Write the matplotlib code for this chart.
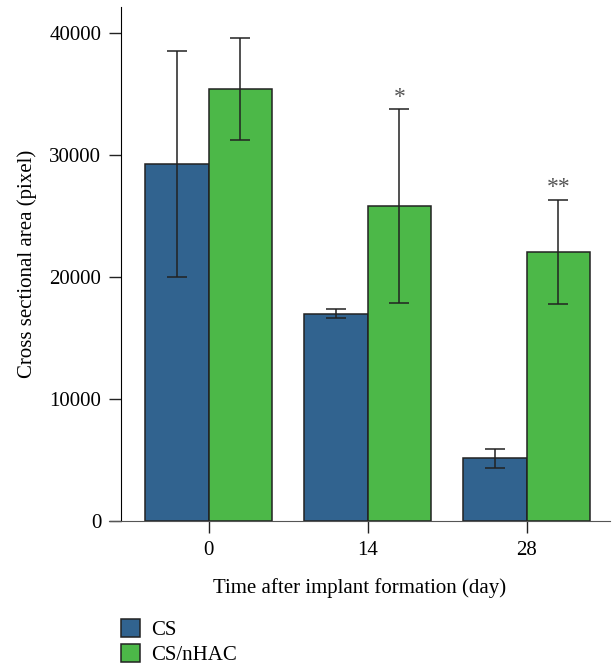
import matplotlib.pyplot as plt
from matplotlib.patches import Patch
import numpy as np

# data
days = ["0", "14", "28"]
cs_mean = [29260, 16990, 5140]
cs_err = [9300, 370, 800]
nhac_mean = [35410, 25820, 22050]
nhac_err = [4200, 7950, 4300]
marks = ["", "*", "**"]

blue = "#31638f"
green = "#4cb848"

plt.rcParams['font.family'] = ['Liberation Serif', 'DejaVu Serif']
plt.rcParams['font.size'] = 15

fig = plt.figure(figsize=(6.14, 6.65), dpi=100)
ax = fig.add_axes([109 / 614, 144 / 665, 501 / 614, 514 / 665])

x = np.arange(len(days))
w = 0.4
ekw = dict(ecolor="#222222", elinewidth=1.1, capthick=1.1)
ax.bar(x - w / 2, cs_mean, w, yerr=cs_err, capsize=7.5, color=blue,
       edgecolor="#222222", linewidth=1.1, error_kw=ekw)
ax.bar(x + w / 2, nhac_mean, w, yerr=nhac_err, capsize=7.5, color=green,
       edgecolor="#222222", linewidth=1.1, error_kw=ekw)

# significance marks
for xi, m, e, s in zip(x, nhac_mean, nhac_err, marks):
    if s:
        ax.annotate(s, (xi + w / 2, m + e), xytext=(0, 1), textcoords="offset points",
                    ha="center", va="bottom", color="#555555", fontsize=17)

ax.set_xlim(-0.627, 2.524)
ax.set_ylim(0, 42130)
ax.set_xticks(x)
ax.set_xticklabels(days)
ax.set_yticks([0, 10000, 20000, 30000, 40000])
ax.tick_params(length=8.6, width=1, pad=5.5, color="#222222")

for s in ["top", "right"]:
    ax.spines[s].set_visible(False)
ax.spines["left"].set_position(("axes", 12 / 501))
ax.spines["bottom"].set_color("#555555")

ax.set_xlabel("Time after implant formation (day)", labelpad=13)
ax.set_ylabel("Cross sectional area (pixel)", labelpad=9)

handles = [Patch(facecolor=blue, edgecolor="#222222", linewidth=1.1),
           Patch(facecolor=green, edgecolor="#222222", linewidth=1.1)]
fig.legend(handles, ["CS", "CS/nHAC"], loc="upper left",
           bbox_to_anchor=(121 / 614, 1 - 619 / 665), frameon=False,
           handlelength=0.92, handleheight=0.92, handletextpad=0.55,
           labelspacing=0.2, borderpad=0, borderaxespad=0)

fig.savefig("out.png", dpi=100)
